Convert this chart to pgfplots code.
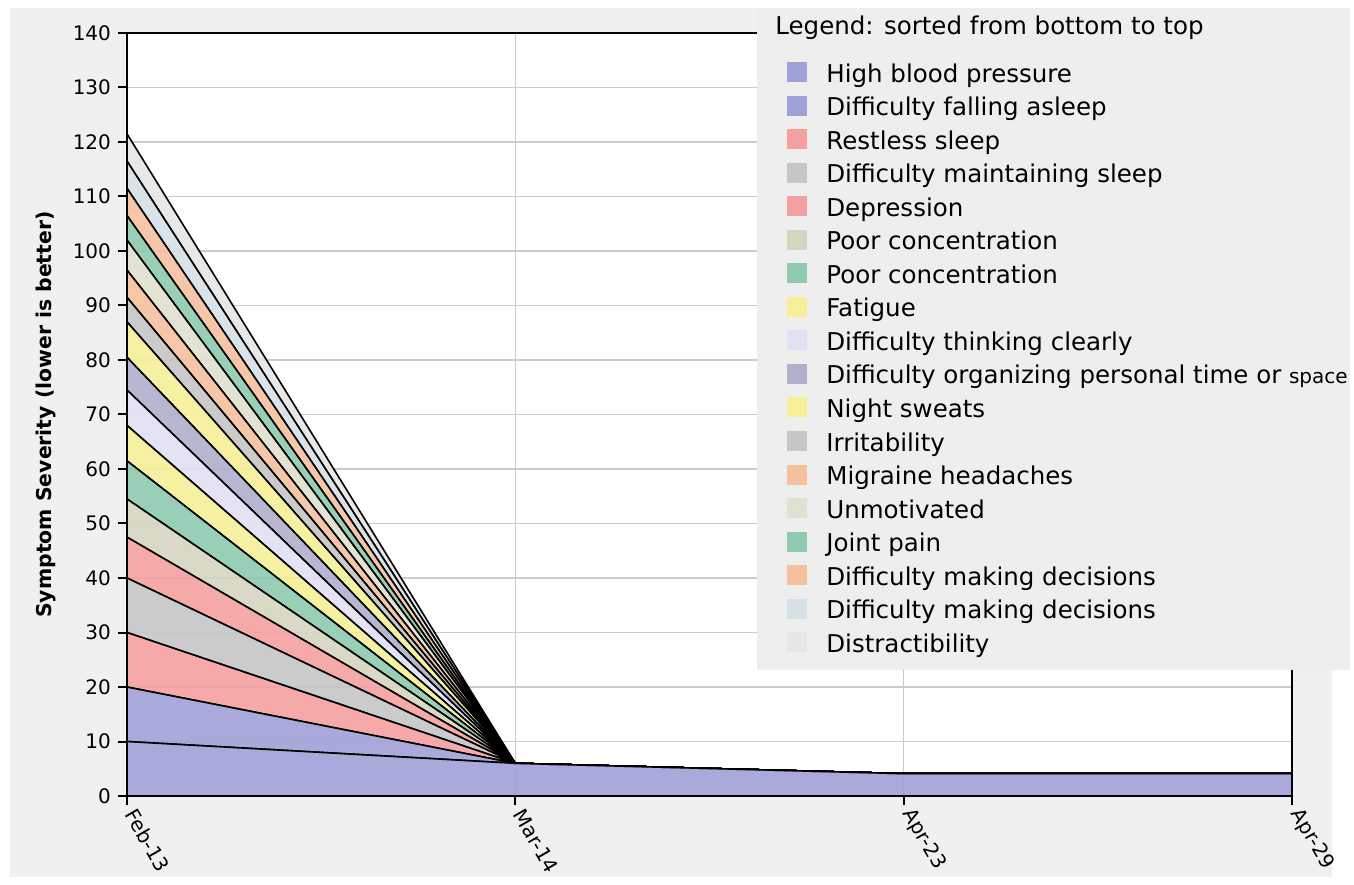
\documentclass[border=0pt]{standalone}
\usepackage{fontspec}
\setmainfont{DejaVu Sans}
\usepackage{pgfplots}
\usepackage{pgfplotstable}
\pgfplotsset{compat=1.18}

\definecolor{bgc}{HTML}{F0F0F0}
\definecolor{legbg}{HTML}{EEEEEE}
\definecolor{gridc}{HTML}{CCCCCC}
\definecolor{cpurple}{HTML}{A0A0D8}
\definecolor{cpink}{HTML}{F4A0A0}
\definecolor{cgray}{HTML}{C6C6C6}
\definecolor{cbeige}{HTML}{D6D5BF}
\definecolor{cgreen}{HTML}{8FCAAF}
\definecolor{cyellow}{HTML}{F4EF98}
\definecolor{clav}{HTML}{E0E1F3}
\definecolor{cgpurp}{HTML}{B0B0CD}
\definecolor{cpeach}{HTML}{F4C09E}
\definecolor{clbeige}{HTML}{E0E1D0}
\definecolor{clblue}{HTML}{D5E0E7}
\definecolor{clgray}{HTML}{E6E6E6}

% stacked severities, one column per symptom (bottom to top)
\pgfplotstableread{
x s1 s2 s3 s4 s5 s6 s7 s8 s9 s10 s11 s12 s13 s14 s15 s16 s17 s18
0 10 10 10 10 7.5 7 7 6.5 6.5 6 6.5 4.5 5 5.5 4.5 5 5 5
1 6 0 0 0 0 0 0 0 0 0 0 0 0 0 0 0 0 0
2 4.1 0 0 0 0 0 0 0 0 0 0 0 0 0 0 0 0 0
3 4.1 0 0 0 0 0 0 0 0 0 0 0 0 0 0 0 0 0
}\sympt

\newcommand{\layer}[3]{%
  \addplot[fill=#1] table[x=x,y=#2]{\sympt} \closedcycle;
  \addlegendentry{#3}}

\begin{document}
\begin{tikzpicture}
\useasboundingbox (0,0) rectangle (677pt,442pt);
\fill[bgc] (5pt,3.5pt) rectangle (666pt,438pt);
\begin{axis}[
  at={(63.5pt,44pt)}, anchor=south west,
  scale only axis, width=582.5pt, height=381.5pt,
  xmin=0, xmax=3, ymin=0, ymax=140,
  xtick={0,1,2,3}, xticklabels={Feb-13,Mar-14,Apr-23,Apr-29},
  ytick distance=10,
  /pgf/number format/assume math mode=true,
  tick label style={font=\fontsize{10}{12}\selectfont},
  xticklabel style={rotate=-60, anchor=west},
  ylabel={Symptom Severity (lower is better)},
  every axis y label/.style={at={(axis description cs:-0.0695,0.5)}, rotate=90, anchor=center, font=\bfseries\fontsize{10.2}{12}\selectfont},
  axis background/.style={fill=white},
  grid=major, grid style={color=gridc, line width=0.8pt},
  axis line style={black, line width=1pt},
  major tick style={black, line width=1pt},
  tick align=outside, major tick length=4.5pt, tick pos=left,
  stack plots=y, clip=false,
  every axis plot/.append style={draw=black, line width=0.8pt, fill opacity=0.9},
  legend cell align=left,
  legend style={at={(axis description cs:0.5665,0.9676)}, anchor=north west,
    fill=none, draw=none, inner sep=0pt, row sep=0pt, column sep=0pt,
    font=\fontsize{12.25}{16.77}\selectfont,
    nodes={inner sep=0pt, text height=12pt, text depth=4.77pt}},
  legend image code/.code={%
    \path[#1, draw=none, fill opacity=1] (0pt,-3.6pt) rectangle (10pt,6.4pt);
    \path[draw=none, fill=none] (0pt,0pt) (19.5pt,0pt);},
]
\layer{cpurple}{s1}{High blood pressure}
\layer{cpurple}{s2}{Difficulty falling asleep}
\layer{cpink}{s3}{Restless sleep}
\layer{cgray}{s4}{Difficulty maintaining sleep}
\layer{cpink}{s5}{Depression}
\layer{cbeige}{s6}{Poor concentration}
\layer{cgreen}{s7}{Poor concentration}
\layer{cyellow}{s8}{Fatigue}
\layer{clav}{s9}{Difficulty thinking clearly}
\layer{cgpurp}{s10}{Difficulty organizing personal time or {\fontsize{10}{12}\selectfont space}}
\layer{cyellow}{s11}{Night sweats}
\layer{cgray}{s12}{Irritability}
\layer{cpeach}{s13}{Migraine headaches}
\layer{clbeige}{s14}{Unmotivated}
\layer{cgreen}{s15}{Joint pain}
\layer{cpeach}{s16}{Difficulty making decisions}
\layer{clblue}{s17}{Difficulty making decisions}
\layer{clgray}{s18}{Distractibility}
% legend panel, drawn over the plot and under the legend entries
\fill[legbg] (axis cs:1.6223,23.12) rectangle (axis cs:3.1494,144.59);
\end{axis}
\node[anchor=base west, inner sep=0pt, font=\fontsize{12.25}{15}\selectfont]
  at (387.5pt,424.5pt) {Legend: sorted from bottom to top};
\end{tikzpicture}
\end{document}
